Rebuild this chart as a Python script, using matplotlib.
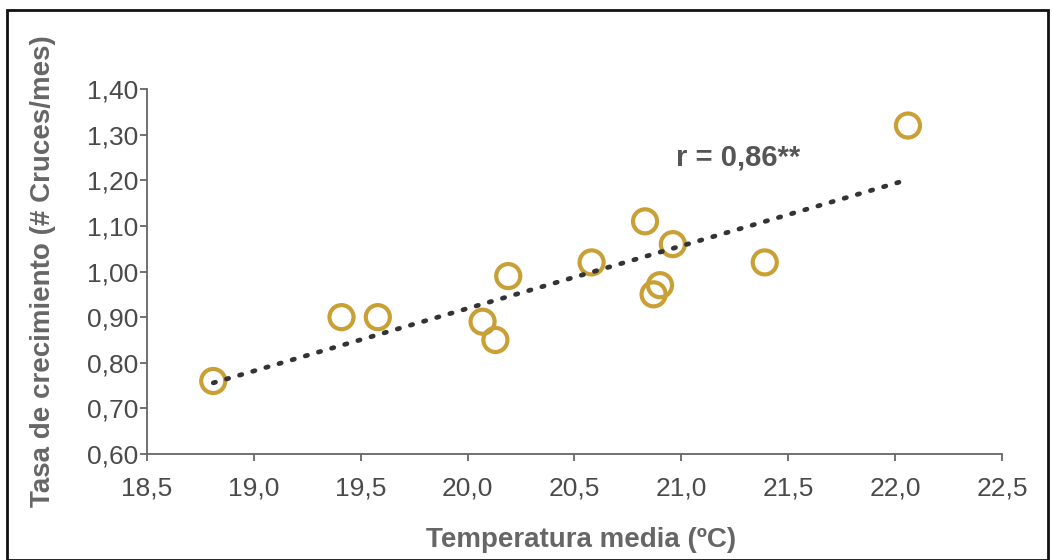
import numpy as np
import matplotlib
matplotlib.use("Agg")
import matplotlib.pyplot as plt
from matplotlib.patches import Rectangle
from matplotlib.ticker import FuncFormatter

temperatura = [18.81, 19.41, 19.58, 20.07, 20.13, 20.19, 20.58, 20.83, 20.96, 20.87, 20.90, 21.39, 22.06]
tasa = [0.76, 0.90, 0.90, 0.89, 0.85, 0.99, 1.02, 1.11, 1.06, 0.95, 0.97, 1.02, 1.32]
x_ticks = [18.5, 19.0, 19.5, 20.0, 20.5, 21.0, 21.5, 22.0, 22.5]
y_ticks = [0.60, 0.70, 0.80, 0.90, 1.00, 1.10, 1.20, 1.30, 1.40]
anotacion = "r = 0,86**"

plt.rcParams['font.family'] = ['Liberation Sans', 'DejaVu Sans']

fig = plt.figure(figsize=(10.52, 5.6), dpi=100)
ax = fig.add_axes([0.1397, 0.1893, 0.8128, 0.6517])

x = np.array(temperatura)
y = np.array(tasa)
m, b = np.polyfit(x, y, 1)
xl = np.array([x.min(), x.max()])
ax.plot(xl, m * xl + b, linestyle=(0, (0.5, 2.4)), color='#333333', lw=3.4,
        dash_capstyle='round', zorder=3)
ax.scatter(x, y, s=300, facecolors='none', edgecolors='#C9A035', linewidths=3, zorder=2)

ax.set_xlim(18.5, 22.5)
ax.set_ylim(0.60, 1.40)
ax.set_xticks(x_ticks)
ax.set_yticks(y_ticks)
ax.xaxis.set_major_formatter(FuncFormatter(lambda v, p: f"{v:.1f}".replace('.', ',')))
ax.yaxis.set_major_formatter(FuncFormatter(lambda v, p: f"{v:.2f}".replace('.', ',')))
for s in ['top', 'right']:
    ax.spines[s].set_visible(False)
for s in ['left', 'bottom']:
    ax.spines[s].set_color('#666666')
    ax.spines[s].set_linewidth(1.3)
ax.tick_params(axis='both', direction='out', length=5, width=1.3, color='#666666',
               labelsize=19, labelcolor='#4a4a4a')
ax.tick_params(axis='x', pad=11)
ax.tick_params(axis='y', pad=1)

ax.set_xlabel("Temperatura media (ºC)", fontsize=20, fontweight='bold', color='#666666')
ax.xaxis.label.set_va('center')
ax.xaxis.set_label_coords(0.508, -0.236)
ax.set_ylabel("Tasa de crecimiento (# Cruces/mes)", fontsize=20, fontweight='bold', color='#666666')
ax.yaxis.label.set_va('center')
ax.yaxis.set_label_coords(-0.1216, 0.501)

ax.text(20.975, 1.251, anotacion, fontsize=21, fontweight='bold', color='#555555', va='center', ha='left')

fig.patches.append(Rectangle((7 / 1052, 0.0), 1041 / 1052, 550 / 560, transform=fig.transFigure,
                             fill=False, edgecolor='#111111', linewidth=2))

fig.savefig("out.png", dpi=100)
